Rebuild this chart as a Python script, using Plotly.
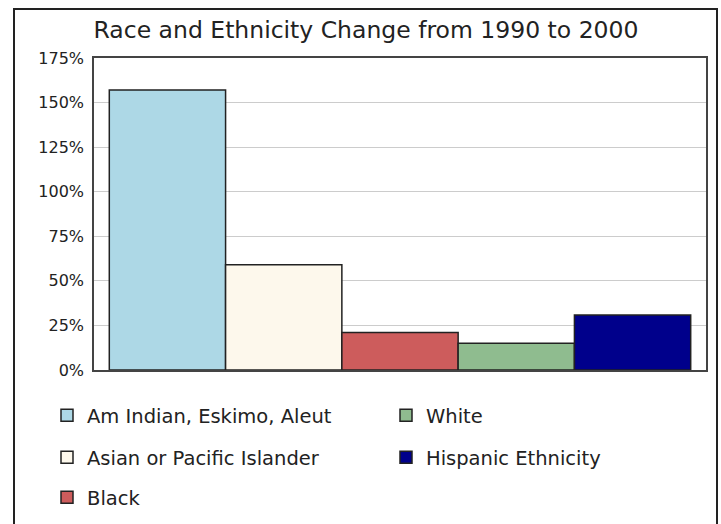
import plotly.graph_objects as go

series = ["Am Indian, Eskimo, Aleut", "Asian or Pacific Islander", "Black", "White", "Hispanic Ethnicity"]
values = [157.0, 59.0, 21.0, 15.0, 30.8]
colors = ["#ADD8E6", "#FDF8EC", "#CD5C5C", "#8FBC8F", "#00008B"]
tick_vals = [0, 25, 50, 75, 100, 125, 150, 175]
tick_text = ["0%", "25%", "50%", "75%", "100%", "125%", "150%", "175%"]
title = "Race and Ethnicity Change from 1990 to 2000"

FONT = "DejaVu Sans"
W, H = 721, 524
L, R, T, B = 94, 15, 58, 154
pw, ph = W - L - R, H - T - B

# legend slot (left px, top px) for each series: two columns, three rows
slots = [(47, 396), (47, 438), (47, 478), (386, 396), (386, 438)]
legend_ids = ["legend", "legend2", "legend3", "legend4", "legend5"]

fig = go.Figure()
for name, v, c, lg in zip(series, values, colors, legend_ids):
    fig.add_trace(go.Bar(
        x=[""], y=[v], name=name, legend=lg, showlegend=True,
        marker=dict(color=c, line=dict(color="#222222", width=1.5)),
        hoverinfo="name+y",
    ))

def leg(xleft, ytop):
    return dict(
        orientation="h", xref="container", yref="container",
        x=xleft / W, y=1 - ytop / H, xanchor="left", yanchor="top",
        itemwidth=30, visible=True,
        font=dict(family=FONT, size=19.5, color="#222222"),
        bgcolor="rgba(0,0,0,0)", borderwidth=0,
    )

legends = {lid: leg(*s) for lid, s in zip(legend_ids, slots)}

fig.update_layout(
    width=W, height=H,
    margin=dict(l=L, r=R, t=T, b=B),
    paper_bgcolor="white", plot_bgcolor="white",
    showlegend=True,
    barmode="group", bargap=0.05, bargroupgap=0,
    title=dict(text=title, x=366 / W, xref="container", y=1 - 30 / H,
               yref="container", xanchor="center", yanchor="middle",
               font=dict(family=FONT, size=23.5, color="#222222")),
    font=dict(family=FONT, color="#222222"),
    xaxis=dict(showticklabels=False, showline=True, mirror=True,
               linecolor="#444444", linewidth=1.5, showgrid=False, zeroline=False),
    yaxis=dict(range=[0, 175], tickvals=tick_vals, ticktext=tick_text,
               showline=True, mirror=True, linecolor="#444444", linewidth=1.5,
               gridcolor="#CCCCCC", gridwidth=1, zeroline=False,
               ticks="", ticklabelstandoff=5,
               tickfont=dict(family=FONT, size=16, color="#222222")),
    shapes=[dict(type="rect", xref="paper", yref="paper",
                 x0=(14 - L) / pw, x1=(717 - L) / pw,
                 y0=((H - B) - 535) / ph, y1=((H - B) - 9) / ph,
                 line=dict(color="#222222", width=2), layer="below")],
    **legends,
)

fig.write_html("out.html", config={"displayModeBar": False},
               post_script="document.body.style.margin='0';")
